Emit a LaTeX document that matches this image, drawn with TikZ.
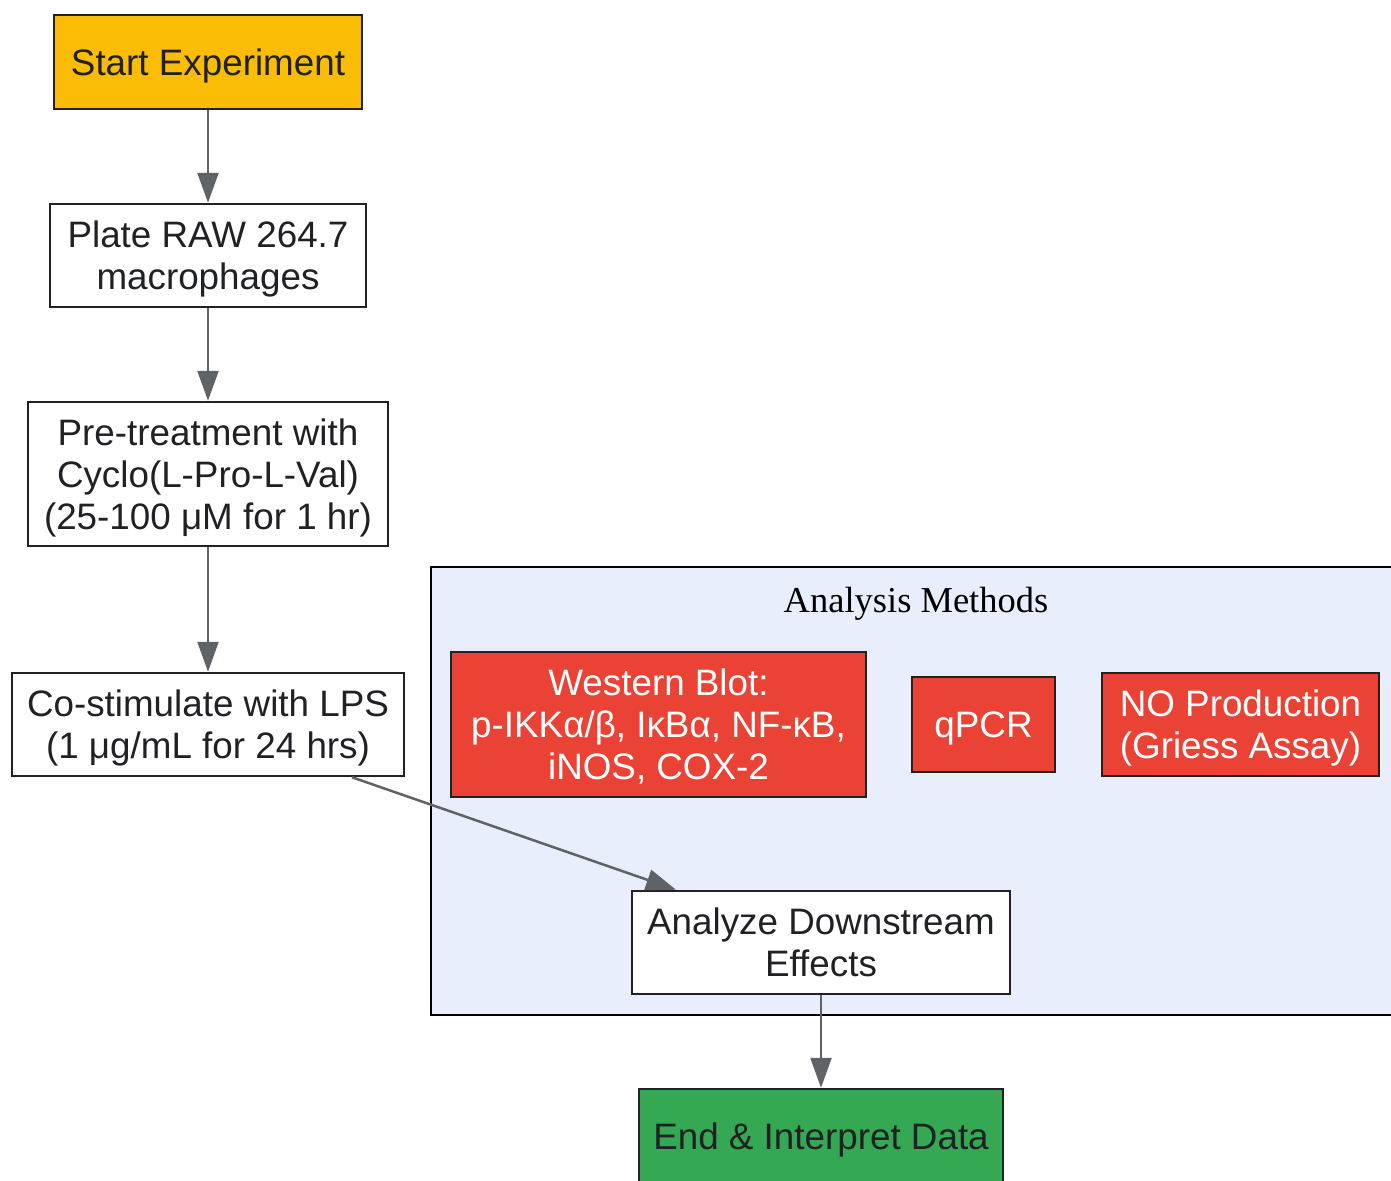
\documentclass[tikz,border=0pt]{standalone}
\usepackage{fontspec}
\setmainfont{Liberation Sans}
\newfontfamily\titlefont{Liberation Serif}
\usetikzlibrary{arrows.meta}
\definecolor{cyellow}{HTML}{FBBC05}
\definecolor{cred}{HTML}{EA4335}
\definecolor{cgreen}{HTML}{34A853}
\definecolor{cclust}{HTML}{E8EEFB}
\definecolor{carrow}{HTML}{5F6368}
\definecolor{ctext}{HTML}{202124}
\definecolor{cborder}{HTML}{222222}
\tikzset{
  box/.style={draw=cborder, line width=2.5pt, align=center, inner sep=0pt,
    font=\fontsize{36.8}{42}\selectfont, text=ctext, text depth=-2pt},
  redbox/.style={box, fill=cred, text=white},
  conn/.style={draw=carrow, line width=2.5pt, -{Triangle[length=30pt,width=21pt]}},
}
\begin{document}
\begin{tikzpicture}[x=1pt,y=-1pt]
\useasboundingbox (0,0) rectangle (1391,1180);
\clip (0,0) rectangle (1391,1180);
\fill[white] (0,0) rectangle (1391,1180);
% cluster
\draw[fill=cclust, draw=black, line width=2.5pt] (431,567) rectangle (1400,1015);
\node[font=\titlefont\fontsize{36.5}{42}\selectfont, text=black] (title) at (916,604) {Analysis Methods};
% nodes
\node[box, fill=cyellow, minimum width=308pt, minimum height=94pt] (start) at (208,62) {Start Experiment};
\node[box, fill=white, minimum width=316pt, minimum height=103pt] (plate) at (208,255.5) {Plate RAW 264.7\\macrophages};
\node[box, fill=white, minimum width=360pt, minimum height=144pt] (pre) at (208,474) {Pre-treatment with\\Cyclo(L-Pro-L-Val)\\(25-100 μM for 1 hr)};
\node[box, fill=white, minimum width=392pt, minimum height=103pt] (co) at (208,724.5) {Co-stimulate with LPS\\(1 μg/mL for 24 hrs)};
\node[redbox, minimum width=415pt, minimum height=145pt] (wb) at (658.5,724.5) {Western Blot:\\p-IKKα/β, IκBα, NF-κB,\\iNOS, COX-2};
\node[redbox, minimum width=143pt, minimum height=95pt] (qpcr) at (983.5,724.5) {qPCR};
\node[redbox, minimum width=277pt, minimum height=103pt] (no) at (1240.5,724.5) {NO Production\\(Griess Assay)};
\node[box, fill=white, minimum width=378pt, minimum height=103pt] (an) at (821,942.5) {Analyze Downstream\\Effects};
\node[box, fill=cgreen, minimum width=364pt, minimum height=94pt] (end) at (821,1136) {End \& Interpret Data};
% connectors
\draw[conn] (start) -- (plate);
\draw[conn] (plate) -- (pre);
\draw[conn] (pre) -- (co);
\draw[conn] ([xshift=144pt]co.south) -- ([xshift=-145pt]an.north);
\draw[conn] (an) -- (end);
\end{tikzpicture}
\end{document}
